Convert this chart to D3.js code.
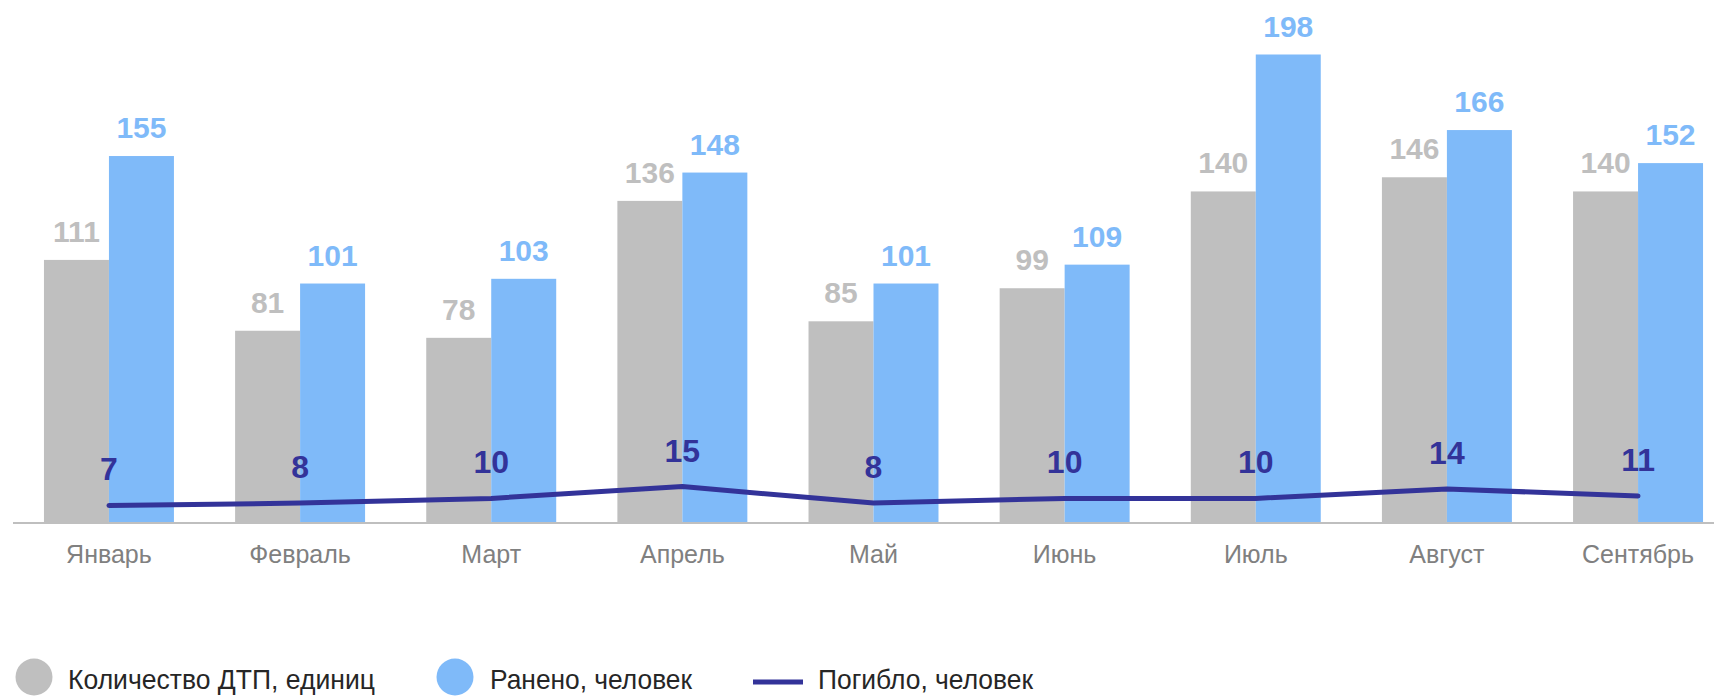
<!DOCTYPE html>
<html>
<head>
<meta charset="utf-8">
<script src="https://cdn.jsdelivr.net/npm/d3@7"></script>
<style>
  html, body { margin: 0; padding: 0; background: #fff; overflow: hidden; }
  svg { display: block; }
  .bar-label { font-family: "Liberation Sans", Arial, sans-serif; font-weight: bold; font-size: 30px; text-anchor: middle; }
  .line-label { font-family: "Liberation Sans", Arial, sans-serif; font-weight: bold; font-size: 32px; text-anchor: middle; }
  .cat-label { font-family: "Liberation Sans", Arial, sans-serif; font-size: 25px; fill: #808080; text-anchor: middle; }
  .legend-label { font-family: "Liberation Sans", Arial, sans-serif; font-size: 28px; fill: #262626; }
</style>
</head>
<body>
<svg id="chart"></svg>
<script>
const months = ['Январь', 'Февраль', 'Март', 'Апрель', 'Май', 'Июнь', 'Июль', 'Август', 'Сентябрь'];
const accidents = [111, 81, 78, 136, 85, 99, 140, 146, 140];
const injured = [155, 101, 103, 148, 101, 109, 198, 166, 152];
const killed = [7, 8, 10, 15, 8, 10, 10, 14, 11];
const legendLabels = ['Количество ДТП, единиц', 'Ранено, человек', 'Погибло, человек'];

const width = 1714;
const height = 696;
const baseY = 522;
const grayColor = '#bfbfbf';
const blueColor = '#7fbaf9';
const lineColor = '#333399';

const svg = d3.select('#chart')
  .attr('width', width)
  .attr('height', height);

// band per month, right edge runs a bit past the picture
const x = d3.scaleBand()
  .domain(months)
  .range([13, 1734])
  .paddingInner(0.32)
  .paddingOuter(0.162);

const xSub = d3.scaleBand()
  .domain(['accidents', 'injured'])
  .range([0, x.bandwidth()]);

// one value scale for bars and the line
const y = d3.scaleLinear()
  .domain([0, 198])
  .range([baseY, baseY - 467.5]);

const barSeries = [
  { key: 'accidents', values: accidents, color: grayColor },
  { key: 'injured', values: injured, color: blueColor }
];

barSeries.forEach(s => {
  const data = months.map((m, i) => ({ month: m, value: s.values[i] }));

  svg.append('g').selectAll('rect')
    .data(data)
    .enter().append('rect')
    .attr('x', d => x(d.month) + xSub(s.key))
    .attr('y', d => y(d.value))
    .attr('width', xSub.bandwidth())
    .attr('height', d => baseY - y(d.value))
    .attr('fill', s.color);

  svg.append('g').selectAll('text')
    .data(data)
    .enter().append('text')
    .attr('class', 'bar-label')
    .attr('x', d => x(d.month) + xSub(s.key) + xSub.bandwidth() / 2)
    .attr('y', d => y(d.value) - 18)
    .attr('fill', s.color)
    .text(d => d.value);
});

// axis line
svg.append('line')
  .attr('x1', 13)
  .attr('x2', width)
  .attr('y1', baseY + 1)
  .attr('y2', baseY + 1)
  .attr('stroke', grayColor)
  .attr('stroke-width', 2);

// category labels
svg.append('g').selectAll('text')
  .data(months)
  .enter().append('text')
  .attr('class', 'cat-label')
  .attr('x', d => x(d) + x.bandwidth() / 2)
  .attr('y', 563)
  .text(d => d);

// killed line
const lineData = months.map((m, i) => ({ month: m, value: killed[i] }));
const line = d3.line()
  .x(d => x(d.month) + x.bandwidth() / 2)
  .y(d => y(d.value));

svg.append('path')
  .datum(lineData)
  .attr('d', line)
  .attr('fill', 'none')
  .attr('stroke', lineColor)
  .attr('stroke-width', 5)
  .attr('stroke-linecap', 'round')
  .attr('stroke-linejoin', 'round');

svg.append('g').selectAll('text')
  .data(lineData)
  .enter().append('text')
  .attr('class', 'line-label')
  .attr('x', d => x(d.month) + x.bandwidth() / 2)
  .attr('y', d => y(d.value) - 25)
  .attr('fill', lineColor)
  .text(d => d.value);

// legend (text is a narrow face in the original, so squeeze it)
const legend = svg.append('g').attr('transform', 'translate(0,677)');
const legendX = [34, 455, 778];

legend.append('circle').attr('cx', legendX[0]).attr('cy', 0).attr('r', 18.5).attr('fill', grayColor);
legend.append('circle').attr('cx', legendX[1]).attr('cy', 0).attr('r', 18.5).attr('fill', blueColor);
legend.append('line')
  .attr('x1', legendX[2] - 25).attr('x2', legendX[2] + 25)
  .attr('y1', 5).attr('y2', 5)
  .attr('stroke', lineColor).attr('stroke-width', 5);

const legendTextX = [68, 490, 818];
const legendTextW = [307, 202, 215];
legend.selectAll('text.legend-label')
  .data(legendLabels)
  .enter().append('text')
  .attr('class', 'legend-label')
  .attr('x', (d, i) => legendTextX[i])
  .attr('y', 12)
  .attr('textLength', (d, i) => legendTextW[i])
  .attr('lengthAdjust', 'spacingAndGlyphs')
  .text(d => d);
</script>
</body>
</html>
